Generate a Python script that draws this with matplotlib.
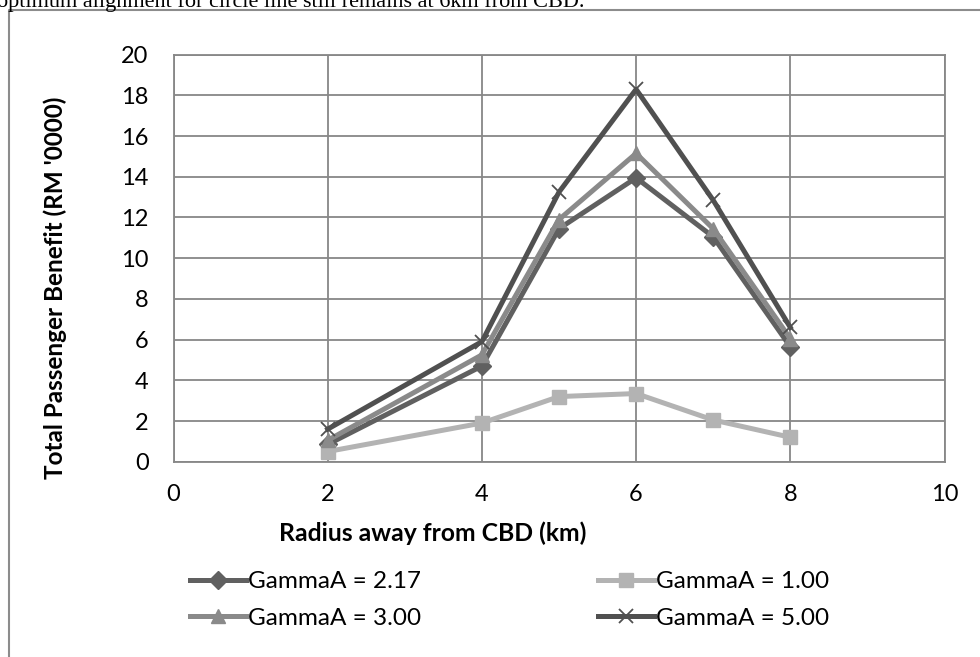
import matplotlib.pyplot as plt
from matplotlib.lines import Line2D

plt.rcParams['font.family'] = ['Lato', 'DejaVu Sans']

radius = [2, 4, 5, 6, 7, 8]
gamma_217 = [0.85, 4.7, 11.45, 13.95, 11.05, 5.65]
gamma_100 = [0.5, 1.9, 3.2, 3.35, 2.05, 1.2]
gamma_300 = [1.05, 5.25, 11.9, 15.15, 11.45, 6.05]
gamma_500 = [1.6, 5.9, 13.25, 18.3, 12.85, 6.6]

xticks = [0, 2, 4, 6, 8, 10]
yticks = list(range(0, 21, 2))

W, H = 980, 657
fig = plt.figure(figsize=(9.8, 6.57), dpi=100)
ax = fig.add_axes([173.5 / W, (H - 461.7) / H, (944.5 - 173.5) / W, (461.7 - 54.7) / H])

l217, = ax.plot(radius, gamma_217, color='#606060', lw=3.6, marker='D', ms=9, label='GammaA = 2.17', clip_on=False)
l100, = ax.plot(radius, gamma_100, color='#b3b3b3', lw=3.6, marker='s', ms=10, label='GammaA = 1.00', clip_on=False)
l300, = ax.plot(radius, gamma_300, color='#8a8a8a', lw=3.6, marker='^', ms=10, label='GammaA = 3.00', clip_on=False)
l500, = ax.plot(radius, gamma_500, color='#505050', lw=3.6, marker='x', ms=10, mew=1.3, label='GammaA = 5.00', clip_on=False)

ax.set_xlim(0, 10)
ax.set_ylim(0, 20)
ax.set_xticks(xticks)
ax.set_yticks(yticks)
ax.grid(True, color='#878787', lw=1.3)
ax.set_axisbelow(True)
for s in ax.spines.values():
    s.set_color('#878787')
    s.set_linewidth(1.3)
ax.tick_params(length=0, labelsize=17)
ax.tick_params(axis='y', pad=18)
ax.tick_params(axis='x', pad=16)

fig.text(433 / W, 1 - 533 / H, 'Radius away from CBD (km)', ha='center', va='center',
         fontsize=17.8, fontweight='bold')
fig.text(55 / W, 1 - 288 / H, "Total Passenger Benefit (RM '0000)", ha='center', va='center',
         rotation=90, fontsize=17.5, fontweight='bold')

# excel fills legend row by row
handles = [l217, l300, l100, l500]
fig.legend(handles, [h.get_label() for h in handles], ncol=2, loc='center left',
           bbox_to_anchor=(190 / W, 1 - 600 / H), borderaxespad=0, borderpad=0,
           frameon=False, fontsize=17.5, handlelength=2.3, handletextpad=0.07,
           columnspacing=7.3, labelspacing=0.62)

# page text cut off at the top and the frame around the chart
fig.text(-3 / W, 1 - 7 / H, 'optimum alignment for circle line still remains at 6km from CBD.',
         ha='left', va='baseline', fontsize=16, family='Liberation Serif')
fig.add_artist(Line2D([9 / W, 9 / W, 1], [0, 1 - 10 / H, 1 - 10 / H], color='#8c8c8c', lw=1.5))

fig.savefig('out.png', dpi=100)
